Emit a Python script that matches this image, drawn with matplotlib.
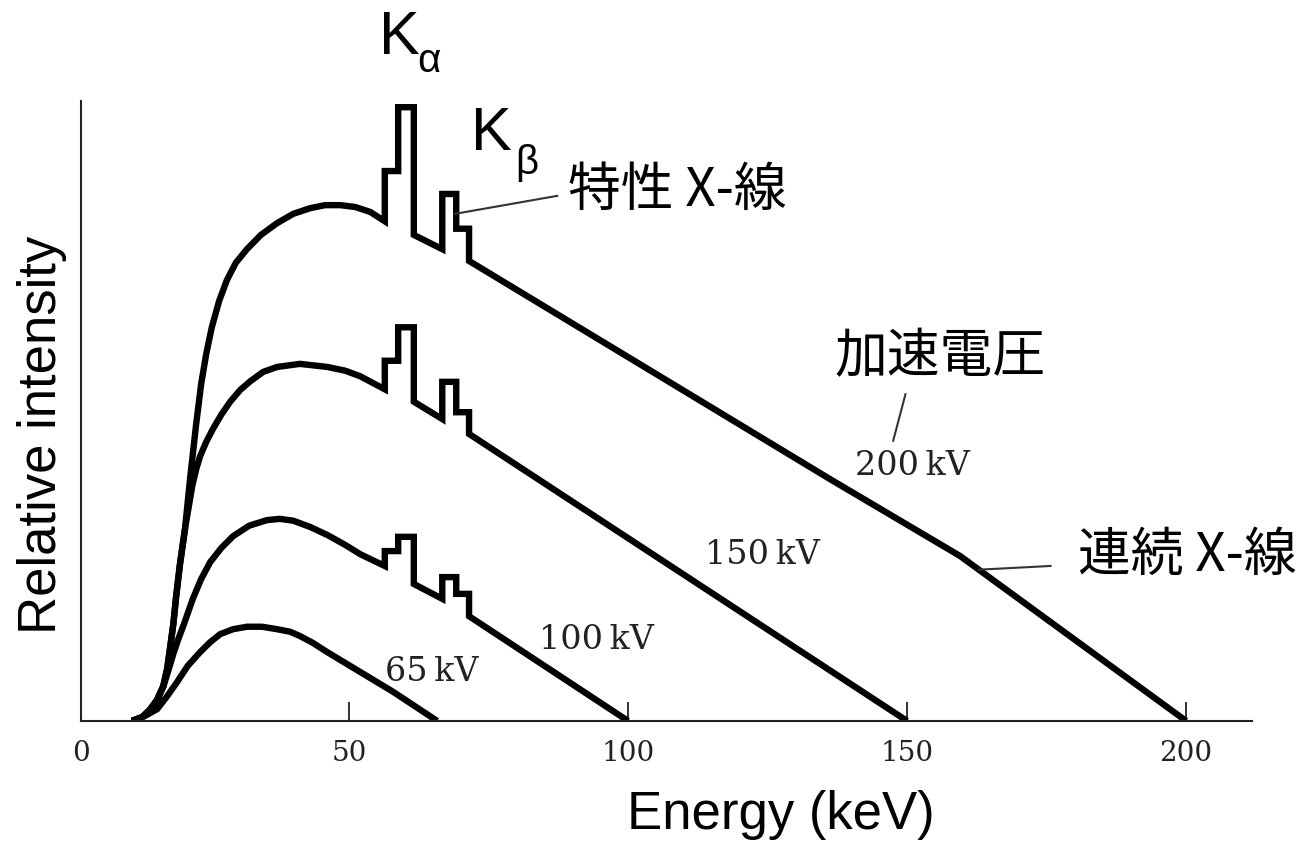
import matplotlib
matplotlib.use("Agg")
import matplotlib.pyplot as plt

# X-ray spectra: energy (keV) and relative intensity (0-100)
e200 = [11.1, 12.9, 14.3, 15.6, 16.7, 17.4, 17.9, 18.5, 19.0, 19.7, 20.6, 21.5, 22.6,
        23.5, 24.4, 25.4, 26.7, 28.1, 29.7, 31.7, 34.2, 37.1, 40.0, 43.0, 45.7, 48.4,
        51.1, 53.8, 56.4, 56.4, 58.8, 58.8, 61.6, 61.6, 66.7, 66.7, 69.2, 69.2,
        71.5, 71.5, 136.2, 159.5, 200.0]
i200 = [0.0, 0.6, 1.8, 3.4, 5.6, 8.4, 11.6, 15.6, 20.0, 25.3, 31.0, 39.0, 47.9,
        54.4, 59.2, 63.5, 67.7, 71.1, 73.9, 76.1, 78.4, 80.3, 81.8, 82.7, 83.2, 83.2,
        82.9, 82.1, 80.6, 88.7, 88.7, 99.0, 99.0, 78.4, 76.1, 85.0, 85.0, 79.4,
        79.4, 74.2, 39.0, 26.6, 0.0]

e150 = [11.1, 12.9, 14.3, 15.6, 16.7, 17.4, 17.9, 18.5, 19.0, 19.7, 20.6, 21.9, 22.6,
        23.3, 24.4, 25.6, 27.1, 28.7, 30.5, 32.3, 34.6, 37.1, 41.2, 46.1, 49.3, 52.0,
        56.4, 56.4, 58.8, 58.8, 61.6, 61.6, 66.7, 66.7, 69.2, 69.2, 71.5, 71.5, 150.0]
i150 = [0.0, 0.6, 1.8, 3.4, 5.6, 8.4, 11.6, 15.6, 20.0, 25.3, 31.0, 37.9, 40.6,
        42.7, 45.0, 47.1, 49.4, 51.5, 53.4, 54.8, 56.3, 57.1, 57.6, 57.1, 56.5, 55.6,
        53.5, 58.1, 58.1, 63.5, 63.5, 51.5, 48.7, 54.7, 54.7, 49.8, 49.8, 46.3, 0.0]

e100 = [11.1, 12.9, 14.3, 15.6, 16.7, 17.6, 18.5, 19.4, 20.4, 22.0, 23.5, 25.1, 27.1,
        29.2, 32.1, 35.3, 37.6, 40.0, 43.0, 46.1, 49.3, 52.0, 56.4, 56.4, 58.8, 58.8,
        61.6, 61.6, 66.7, 66.7, 69.2, 69.2, 71.5, 71.5, 100.0]
i100 = [0.0, 0.6, 1.8, 3.4, 5.5, 8.1, 10.8, 13.2, 15.6, 19.7, 22.9, 25.6, 27.9,
        29.8, 31.5, 32.4, 32.6, 32.3, 31.3, 30.0, 28.4, 26.9, 25.0, 27.4, 27.4, 29.7,
        29.7, 22.1, 19.7, 23.2, 23.2, 20.5, 20.5, 16.9, 0.0]

e65 = [11.1, 13.4, 15.6, 17.4, 19.2, 21.1, 23.3, 25.1, 26.9, 29.2, 31.7, 34.4, 37.1,
       39.4, 41.2, 43.5, 46.1, 52.0, 57.9, 65.8]
i65 = [0.0, 0.8, 1.9, 4.0, 6.3, 8.9, 11.1, 12.7, 14.0, 14.8, 15.2, 15.2, 14.8,
       14.4, 13.7, 12.6, 11.1, 7.9, 4.7, 0.0]

curves = [(e200, i200), (e150, i150), (e100, i100), (e65, i65)]
kv_labels = ["200\u2009kV", "150\u2009kV", "100\u2009kV", "65\u2009kV"]
kv_pos = [(150.9, 41.3), (124.0, 26.9), (94.4, 13.2), (64.9, 8.1)]
xmin, xmax = 1.97, 211.8
xticks = [xmin, 50, 100, 150, 200]
xticklabels = ["0", "50", "100", "150", "200"]

jp = ["Noto Sans CJK JP", "DejaVu Sans"]
sans = ["Liberation Sans", "DejaVu Sans"]

fig = plt.figure(figsize=(13.05, 8.45), dpi=100)
ax = fig.add_axes([0.0621, 0.1456, 0.8973, 0.7337])

for e, i in curves:
    ax.plot(e, i, color="black", lw=4.6, solid_joinstyle="miter", solid_capstyle="butt")

ax.set_xlim(xmin, xmax)
ax.set_ylim(0, 100)
ax.spines["top"].set_visible(False)
ax.spines["right"].set_visible(False)
for s in ["left", "bottom"]:
    ax.spines[s].set_color("#222222")
    ax.spines[s].set_linewidth(1.5)
ax.set_yticks([])
ax.set_xticks(xticks)
ax.set_xticklabels(xticklabels, family="DejaVu Serif", fontsize=20, color="#222222")
ax.tick_params(axis="x", direction="in", length=14, width=1.3, pad=13, color="#222222")
ax.xaxis.get_major_ticks()[0].tick1line.set_visible(False)

# kV labels
for txt, (x, y) in zip(kv_labels, kv_pos):
    ax.text(x, y, txt, family="DejaVu Serif", fontsize=24, ha="center", va="center", color="#222222")

# K alpha / K beta
ax.text(59.0, 110.3, "K", family=sans, fontsize=44, ha="center", va="center", clip_on=False)
ax.text(64.4, 106.6, "\u03b1", family=sans, fontsize=29, ha="center", va="center", clip_on=False)
ax.text(75.5, 94.7, "K", family=sans, fontsize=44, ha="center", va="center")
ax.text(81.9, 90.2, "\u03b2", family=sans, fontsize=29, ha="center", va="center")

# annotations with pointer lines
ax.text(108.8, 85.8, "特性 X-線", family=jp, fontsize=38, ha="center", va="center")
ax.plot([69.0, 87.3], [81.8, 84.7], color="#333333", lw=1.5)
ax.text(155.9, 58.9, "加速電圧", family=jp, fontsize=38, ha="center", va="center")
ax.plot([149.7, 147.5], [52.7, 45.2], color="#333333", lw=1.5)
ax.text(200.2, 26.9, "連続 X-線", family=jp, fontsize=38, ha="center", va="center", clip_on=False)
ax.plot([162.8, 175.7], [24.4, 25.0], color="#333333", lw=1.5)

fig.text(781 / 1305, 1 - 815 / 845, "Energy (keV)", family=sans, fontsize=38, ha="center", va="center")
fig.text(42 / 1305, 1 - 435 / 845, "Relative intensity", family=sans, fontsize=38,
         ha="center", va="center", rotation=90)

fig.savefig("out.png", dpi=100)
